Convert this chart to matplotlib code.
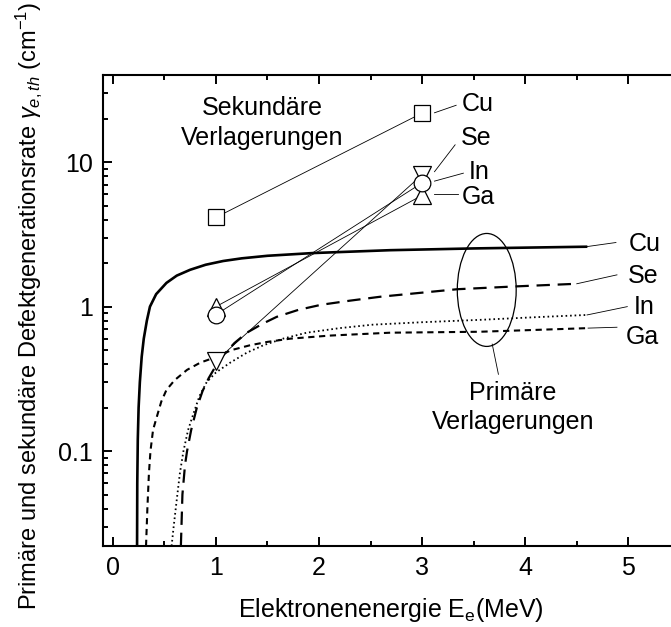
import matplotlib.pyplot as plt
from matplotlib.patches import Ellipse
from matplotlib.ticker import LogLocator, MultipleLocator, FixedLocator

plt.rcParams['font.family'] = ['Liberation Sans', 'DejaVu Sans']
plt.rcParams['mathtext.fontset'] = 'custom'
plt.rcParams['mathtext.rm'] = 'Liberation Sans'
plt.rcParams['mathtext.it'] = 'Liberation Sans:italic'

# Primäre Verlagerungen (Energie in MeV, Rate in 1/cm)
cu_e = [0.235, 0.237, 0.242, 0.25, 0.262, 0.28, 0.30, 0.33, 0.36, 0.42, 0.52, 0.62, 0.75,
        0.9, 1.07, 1.25, 1.5, 1.94, 2.69, 3.5, 4.59]
cu_r = [0.022, 0.06, 0.12, 0.2, 0.3, 0.45, 0.6, 0.8, 1.0, 1.22, 1.46, 1.64, 1.8,
        1.95, 2.07, 2.16, 2.25, 2.35, 2.46, 2.53, 2.60]

se_e = [0.66, 0.675, 0.70, 0.72, 0.76, 0.815, 0.87, 0.93, 1.0, 1.07, 1.18, 1.30, 1.45,
        1.59, 1.8, 2.02, 2.3, 2.59, 3.0, 3.34, 3.9, 4.5]
se_r = [0.022, 0.05, 0.08, 0.10, 0.14, 0.2, 0.26, 0.32, 0.39, 0.46, 0.56, 0.66, 0.76,
        0.85, 0.95, 1.03, 1.10, 1.17, 1.25, 1.32, 1.38, 1.44]

in_e = [0.57, 0.59, 0.62, 0.65, 0.685, 0.73, 0.78, 0.84, 0.91, 1.0, 1.14, 1.3, 1.46,
        1.65, 1.88, 2.2, 2.52, 3.0, 3.56, 4.1, 4.6]
in_r = [0.022, 0.03, 0.046, 0.07, 0.10, 0.14, 0.18, 0.24, 0.30, 0.35, 0.41, 0.48, 0.54,
        0.60, 0.66, 0.71, 0.75, 0.78, 0.81, 0.845, 0.876]

ga_e = [0.322, 0.335, 0.35, 0.365, 0.39, 0.427, 0.47, 0.52, 0.6, 0.72, 0.85, 1.01, 1.15,
        1.33, 1.5, 1.72, 2.1, 2.69, 3.56, 4.1, 4.61]
ga_r = [0.022, 0.04, 0.07, 0.10, 0.14, 0.173, 0.22, 0.265, 0.31, 0.365, 0.41, 0.45, 0.50,
        0.54, 0.57, 0.60, 0.63, 0.66, 0.67, 0.69, 0.71]

# Sekundäre Verlagerungen bei 1 und 3 MeV
sec_e = [1, 3]
sec_cu = [4.15, 21.9]
sec_se = [0.42, 8.2]
sec_in = [0.88, 7.2]
sec_ga = [1.0, 5.9]

fig = plt.figure(figsize=(6.71, 6.27), dpi=100)
# the frame runs a little past the right edge of the image
ax = fig.add_axes([0.1528, 0.1292, 0.8604, 0.7507])

ax.plot(cu_e, cu_r, color='black', lw=1.9, solid_joinstyle='round')
ax.plot(se_e, se_r, color='black', lw=1.6, dashes=(6, 3.5))
ax.plot(in_e, in_r, color='black', lw=1.3, dashes=(0.9, 1.6))
ax.plot(ga_e, ga_r, color='black', lw=1.5, dashes=(3, 2.2))

thin = dict(color='black', lw=0.6)
mk = dict(markerfacecolor='white', markeredgecolor='black', markeredgewidth=0.9)
ax.plot(sec_e, sec_cu, **thin)
ax.plot(sec_e, sec_se, **thin)
ax.plot(sec_e, sec_in, **thin)
ax.plot(sec_e, sec_ga, **thin)
ax.plot(sec_e, sec_cu, ls='none', marker='s', markersize=11, **mk)
ax.plot(sec_e, sec_ga, ls='none', marker='^', markersize=12.5, **mk)
ax.plot(sec_e, sec_se, ls='none', marker='v', markersize=12.5, **mk)
ax.plot(sec_e, sec_in, ls='none', marker='o', markersize=12, **mk)

ax.set_yscale('log')
ax.set_xlim(-0.1, 5.5)
ax.set_ylim(0.022, 40)

ax.xaxis.set_major_locator(MultipleLocator(1))
ax.xaxis.set_minor_locator(MultipleLocator(0.5))
ax.yaxis.set_major_locator(FixedLocator([0.1, 1, 10]))
ax.yaxis.set_minor_locator(LogLocator(base=10, subs=range(2, 10)))
ax.yaxis.set_major_formatter(plt.FuncFormatter(lambda v, p: f'{v:g}'))
ax.yaxis.set_minor_formatter(plt.NullFormatter())

ax.tick_params(which='both', direction='in', top=True, right=True, width=1.4, labelsize=18)
ax.tick_params(which='major', length=6.5, pad=7)
ax.tick_params(which='minor', length=3.6)
for s in ax.spines.values():
    s.set_linewidth(1.5)

ax.set_xlabel('Elektronenenergie E$_\\mathrm{e}$(MeV)', fontsize=18, labelpad=12)
fig.text(0.042, 0.512,
         'Primäre und sekundäre Defektgenerationsrate $\\gamma_{e,th}$ (cm$^{-1}$)',
         rotation=90, fontsize=17, ha='center', va='center')

# Beschriftungen der primären Kurven
lab = dict(fontsize=18, ha='left', va='center')
ax.plot([4.59, 4.88], [2.60, 2.78], **thin)
ax.text(5.0, 2.72, 'Cu', **lab)
ax.plot([4.50, 4.89], [1.44, 1.66], **thin)
ax.text(5.0, 1.64, 'Se', **lab)
ax.plot([4.60, 4.99], [0.876, 1.0], **thin)
ax.text(5.05, 0.99, 'In', **lab)
ax.plot([4.61, 4.89], [0.71, 0.72], **thin)
ax.text(4.98, 0.62, 'Ga', **lab)

# Beschriftungen der sekundären Punkte
ax.plot([3.12, 3.33], [22.0, 24.8], **thin)
ax.text(3.38, 25.2, 'Cu', **lab)
ax.plot([3.12, 3.32], [8.6, 13.2], **thin)
ax.text(3.38, 14.8, 'Se', **lab)
ax.plot([3.12, 3.4], [7.4, 8.4], **thin)
ax.text(3.45, 8.6, 'In', **lab)
ax.plot([3.12, 3.35], [6.0, 6.0], **thin)
ax.text(3.38, 5.7, 'Ga', **lab)

ax.text(1.45, 18.8, 'Sekundäre\nVerlagerungen', fontsize=18, ha='center', va='center',
        linespacing=1.3)

ax.add_patch(Ellipse((0.6655, 0.544), 0.102, 0.240, transform=ax.transAxes,
                     fill=False, edgecolor='black', lw=0.9))
ax.plot([3.68, 3.74], [0.55, 0.34], **thin)
ax.text(3.88, 0.2, 'Primäre\nVerlagerungen', fontsize=18, ha='center', va='center',
        linespacing=1.3)

fig.savefig('out.png', dpi=100)
